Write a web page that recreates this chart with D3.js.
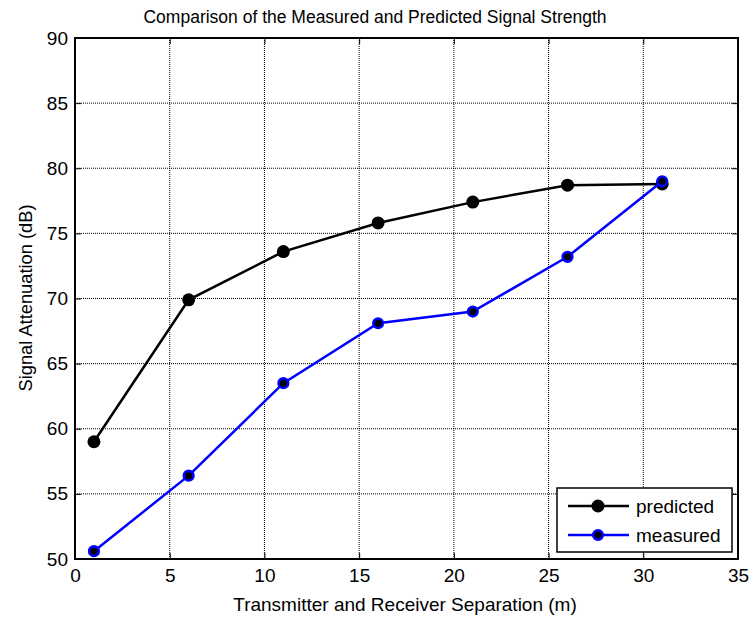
<!DOCTYPE html>
<html>
<head>
<meta charset="utf-8">
<script src="https://cdn.jsdelivr.net/npm/d3@7"></script>
<style>
  body { margin: 0; background: #fff; }
  text { font-family: "Liberation Sans", Arial, sans-serif; }
</style>
</head>
<body>
<script>
// chart data
var separation = [1, 6, 11, 16, 21, 26, 31];
var predicted = [59.0, 69.9, 73.6, 75.8, 77.4, 78.7, 78.8];
var measured = [50.6, 56.4, 63.5, 68.1, 69.0, 73.2, 79.0];
var xTicks = [0, 5, 10, 15, 20, 25, 30, 35];
var yTicks = [50, 55, 60, 65, 70, 75, 80, 85, 90];
var seriesNames = ['predicted', 'measured'];

var W = 750, H = 618;
var pLeft = 75, pRight = 738, pTop = 38, pBottom = 559;

var svg = d3.select('body').append('svg')
  .attr('width', W).attr('height', H);

var x = d3.scaleLinear().domain([0, 35]).range([pLeft, pRight]);
var y = d3.scaleLinear().domain([50, 90]).range([pBottom, pTop]);

// grid
var grid = svg.append('g');
grid.selectAll('line.gx').data(xTicks.slice(1, -1)).enter().append('line')
  .attr('x1', function(d) { return x(d); }).attr('x2', function(d) { return x(d); })
  .attr('y1', pTop).attr('y2', pBottom)
  .attr('stroke', '#000').attr('stroke-width', 1).attr('stroke-dasharray', '1,1');
grid.selectAll('line.gy').data(yTicks.slice(1, -1)).enter().append('line')
  .attr('y1', function(d) { return y(d); }).attr('y2', function(d) { return y(d); })
  .attr('x1', pLeft).attr('x2', pRight)
  .attr('stroke', '#000').attr('stroke-width', 1).attr('stroke-dasharray', '1,1');

// axes (ticks inside)
var tickLen = 6;
svg.append('g').attr('transform', 'translate(0,' + pBottom + ')')
  .call(d3.axisBottom(x).tickValues(xTicks).tickSizeInner(-tickLen).tickSizeOuter(0).tickPadding(10))
  .call(function(g) { g.select('.domain').remove(); });
svg.append('g').attr('transform', 'translate(0,' + pTop + ')')
  .call(d3.axisTop(x).tickValues(xTicks).tickSizeInner(-tickLen).tickSizeOuter(0).tickFormat(''))
  .call(function(g) { g.select('.domain').remove(); });
svg.append('g').attr('transform', 'translate(' + pLeft + ',0)')
  .call(d3.axisLeft(y).tickValues(yTicks).tickSizeInner(-tickLen).tickSizeOuter(0).tickPadding(7))
  .call(function(g) { g.select('.domain').remove(); });
svg.append('g').attr('transform', 'translate(' + pRight + ',0)')
  .call(d3.axisRight(y).tickValues(yTicks).tickSizeInner(-tickLen).tickSizeOuter(0).tickFormat(''))
  .call(function(g) { g.select('.domain').remove(); });

svg.selectAll('.tick line').attr('stroke', '#000').attr('stroke-width', 1);
svg.selectAll('.tick text').attr('font-size', 19).attr('fill', '#000')
  .style('font-family', '"Liberation Sans", Arial, sans-serif');

svg.append('rect')
  .attr('x', pLeft).attr('y', pTop).attr('width', pRight - pLeft).attr('height', pBottom - pTop)
  .attr('fill', 'none').attr('stroke', '#000').attr('stroke-width', 2);

// series
var line = d3.line()
  .x(function(d) { return x(d[0]); })
  .y(function(d) { return y(d[1]); });

var predData = separation.map(function(s, i) { return [s, predicted[i]]; });
var measData = separation.map(function(s, i) { return [s, measured[i]]; });

svg.append('path').datum(predData).attr('d', line)
  .attr('fill', 'none').attr('stroke', '#000').attr('stroke-width', 2.5);
svg.selectAll('circle.pred').data(predData).enter().append('circle')
  .attr('class', 'pred')
  .attr('cx', function(d) { return x(d[0]); })
  .attr('cy', function(d) { return y(d[1]); })
  .attr('r', 6.5).attr('fill', '#000');

svg.append('path').datum(measData).attr('d', line)
  .attr('fill', 'none').attr('stroke', '#0000ff').attr('stroke-width', 2.5);
svg.selectAll('circle.meas').data(measData).enter().append('circle')
  .attr('class', 'meas')
  .attr('cx', function(d) { return x(d[0]); })
  .attr('cy', function(d) { return y(d[1]); })
  .attr('r', 4.8).attr('fill', '#000').attr('stroke', '#0000ff').attr('stroke-width', 2.6);

// legend
var lg = svg.append('g');
lg.append('rect').attr('x', 557).attr('y', 488).attr('width', 175).attr('height', 64)
  .attr('fill', '#fff').attr('stroke', '#000').attr('stroke-width', 1.5);
var colors = ['#000', '#0000ff'];
seriesNames.forEach(function(name, i) {
  var ly = 506 + i * 29;
  lg.append('line').attr('x1', 568).attr('x2', 629).attr('y1', ly).attr('y2', ly)
    .attr('stroke', colors[i]).attr('stroke-width', 2.5);
  if (i === 0) {
    lg.append('circle').attr('cx', 598).attr('cy', ly).attr('r', 6.5).attr('fill', '#000');
  } else {
    lg.append('circle').attr('cx', 598).attr('cy', ly).attr('r', 4.8)
      .attr('fill', '#000').attr('stroke', '#0000ff').attr('stroke-width', 2.6);
  }
  lg.append('text').attr('x', 636).attr('y', ly + 7).attr('font-size', 19).text(name);
});

// labels
svg.append('text').attr('x', 375).attr('y', 23)
  .attr('text-anchor', 'middle').attr('font-size', 17.5)
  .text('Comparison of the Measured and Predicted Signal Strength');
svg.append('text').attr('x', 405).attr('y', 611)
  .attr('text-anchor', 'middle').attr('font-size', 19)
  .text('Transmitter and Receiver Separation (m)');
svg.append('text')
  .attr('transform', 'translate(32,' + 298 + ') rotate(-90)')
  .attr('text-anchor', 'middle').attr('font-size', 18.3)
  .text('Signal Attenuation (dB)');
</script>
</body>
</html>
